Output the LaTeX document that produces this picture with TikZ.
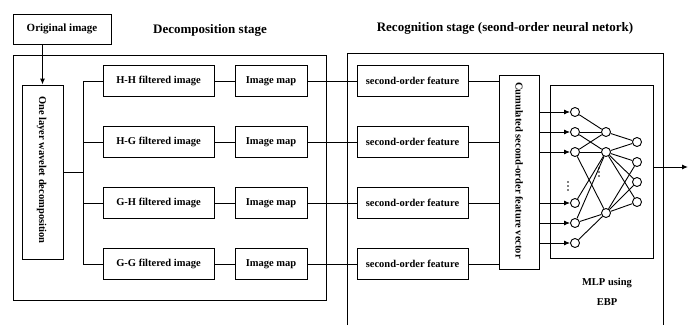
\documentclass[tikz,border=0pt]{standalone}
\usepackage{fontspec}
\setmainfont{Liberation Serif}
\usetikzlibrary{arrows.meta}
\begin{document}
\begin{tikzpicture}[x=1pt,y=-1pt,
  line width=1pt,
  box/.style={draw, rectangle, inner sep=0pt, font=\fontsize{10.5}{12}\selectfont\bfseries},
  frame/.style={draw, rectangle, inner sep=0pt},
  title/.style={font=\fontsize{13}{15}\selectfont\bfseries, inner sep=0pt},
  lbl/.style={font=\fontsize{10.5}{12}\selectfont\bfseries, inner sep=0pt},
  vword/.style={font=\fontsize{10.5}{12}\selectfont\bfseries, inner sep=0pt, outer sep=0pt, rotate=-90, anchor=base west},
  neuron/.style={draw, circle, minimum size=9pt, inner sep=0pt, line width=0.9pt},
  arrow/.style={-{Latex[length=6pt,width=5pt]}},
  wire/.style={line width=0.9pt},
  dotmark/.style={fill, circle, inner sep=0pt, minimum size=1.8pt}
]
\useasboundingbox (0,0) rectangle (693,325);

% titles
\node[box, minimum width=98pt, minimum height=30pt, font=\fontsize{11}{13}\selectfont\bfseries] (orig) at (62,29) {Original image};
\node[title] (dtitle) at (210,30) {Decomposition stage};
\node[title] (rtitle) at (505,28) {Recognition stage (seond-order neural netork)};

% decomposition frame
\node[frame, minimum width=313pt, minimum height=245pt] (decframe) at (169.5,177.5) {};
% recognition frame (open at bottom)
\coordinate (rbl) at (347,325);
\coordinate (rtl) at (347,53);
\coordinate (rtr) at (663,53);
\coordinate (rbr) at (663,325);
\draw (rbl) -- (rtl) -- (rtr) -- (rbr);

% wavelet decomposition box
\node[box, minimum width=41pt, minimum height=174pt] (dec) at (42.5,172) {};
\node[vword] (dw1) at (39,96) {One};
\node[vword] (dw2) at ([yshift=-2.6pt]dw1.base east) {layer};
\node[vword] (dw3) at ([yshift=-2.6pt]dw2.base east) {wavelet};
\node[vword] (dw4) at ([yshift=-2.6pt]dw3.base east) {decomposition};
\draw[arrow] (orig.south -| dec.north) -- (dec.north);

% filtered images
\foreach \n/\t/\y in {1/H-H/81, 2/H-G/142, 3/G-H/203, 4/G-G/264} {
  \node[box, minimum width=111pt, minimum height=31pt] (filt\n) at (158.5,\y) {\t\ filtered image};
  \node[box, minimum width=72pt, minimum height=31pt] (map\n) at (271,\y) {Image map};
  \node[box, minimum width=111pt, minimum height=31pt] (sof\n) at (412.5,\y) {second-order feature};
}

% bus
\coordinate (bus) at (83,172);
\draw[wire] (dec.east |- bus) -- (bus);
\draw[wire] (filt1.west -| bus) -- (filt4.west -| bus);
\foreach \n in {1,2,3,4} {
  \draw[wire] (filt\n.west -| bus) -- (filt\n.west);
  \draw[wire] (filt\n) -- (map\n);
  \draw[wire] (map\n) -- (sof\n);
}

% cumulated vector
\node[box, minimum width=40pt, minimum height=194pt] (cum) at (519,172) {};
\node[vword] (cw1) at (515.5,82) {Cumulated};
\node[vword] (cw2) at ([yshift=-2.6pt]cw1.base east) {second-order};
\node[vword] (cw3) at ([yshift=-2.6pt]cw2.base east) {feature};
\node[vword] (cw4) at ([yshift=-2.6pt]cw3.base east) {vector};
\foreach \n in {1,2,3,4} {
  \draw[wire] (sof\n.east) -- (sof\n.east -| cum.west);
}

% MLP frame
\node[frame, minimum width=103pt, minimum height=173pt] (mlp) at (601.5,171.5) {};

% neurons
\foreach \n/\y in {1/112, 2/132, 3/152, 4/203, 5/223, 6/243} {
  \node[neuron] (in\n) at (575,\y) {};
  \draw[wire, arrow] (in\n -| cum.east) -- (in\n.west);
}
\foreach \n/\y in {1/132, 2/152, 3/213} {
  \node[neuron] (h\n) at (606,\y) {};
}
\foreach \n/\y in {1/142, 2/162, 3/182, 4/202} {
  \node[neuron] (o\n) at (637,\y) {};
}
% ellipsis dots
\foreach \y [count=\i] in {182,186,190} {
  \node[dotmark] (idot\i) at (568,\y) {};
}
\foreach \y [count=\i] in {168,172,176} {
  \node[dotmark] (hdot\i) at (599,\y) {};
}

\foreach \a/\b in {in1/h1, in2/h1, in2/h2, in3/h1, in3/h2, in3/h3, in4/h2, in5/h2, in5/h3, in6/h3} {
  \draw[wire] (\a) -- (\b);
}
\foreach \a/\b in {h1/o1, h2/o1, h2/o2, h2/o3, h2/o4, h3/o2, h3/o3, h3/o4} {
  \draw[wire] (\a) -- (\b);
}

% output arrow
\coordinate (outend) at (688,167);
\draw[arrow] (mlp.east |- outend) -- (outend);

% MLP labels
\node[lbl] (mlpl1) at (607,283) {MLP using};
\node[lbl] (mlpl2) at (607,302) {EBP};
\end{tikzpicture}
\end{document}
